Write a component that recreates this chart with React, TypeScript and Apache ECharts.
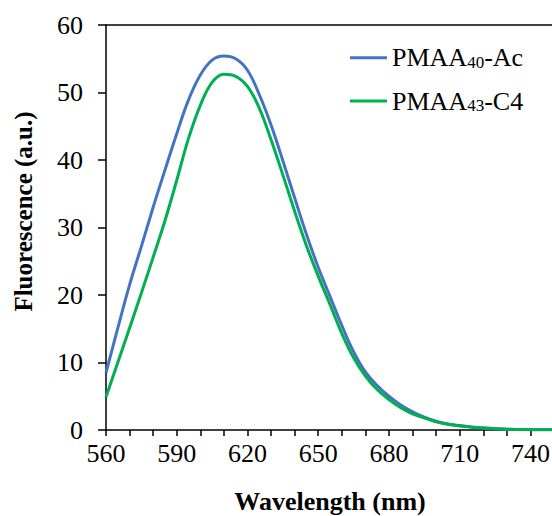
import React, { useEffect, useRef } from "react";
import * as echarts from "echarts";

const seriesNames = ["PMAA40-Ac", "PMAA43-C4"];
const seriesColors = ["#4472C4", "#00B050"];

const wavelength = [560, 565, 570, 575, 580, 585, 590, 595, 600, 605, 610, 615, 620, 625, 630, 635, 640, 645, 650, 655, 660, 665, 670, 675, 680, 685, 690, 695, 700, 705, 710, 715, 720, 725, 730, 735, 740, 745, 750];
const fluorA = [8.5, 15.1, 21.5, 27.2, 33.0, 38.5, 43.9, 48.9, 52.6, 54.8, 55.4, 55.0, 53.3, 49.7, 45.2, 39.9, 34.4, 29.0, 24.1, 19.8, 15.5, 11.6, 8.6, 6.6, 5.0, 3.7, 2.7, 1.9, 1.3, 0.9, 0.65, 0.45, 0.3, 0.2, 0.12, 0.08, 0.05, 0.04, 0.03];
const fluorB = [4.9, 10.0, 15.1, 20.3, 25.6, 31.0, 37.0, 43.2, 48.1, 51.5, 52.7, 52.4, 50.9, 47.7, 43.0, 37.8, 32.4, 27.3, 22.8, 18.6, 14.3, 10.7, 8.0, 6.0, 4.5, 3.3, 2.4, 1.8, 1.2, 0.85, 0.6, 0.42, 0.28, 0.18, 0.11, 0.07, 0.05, 0.04, 0.03];

const xMin = 560;
const xMax = 750;
const xStep = 10;
const xLabelStep = 30;
const yMin = 0;
const yMax = 60;
const yStep = 10;

const xTitle = "Wavelength (nm)";
const yTitle = "Fluorescence (a.u.)";

const FONT = "'Liberation Serif', 'Times New Roman', serif";

function legendFormatter(name: string) {
  const m = name.match(/^([A-Za-z]+)(\d+)(.*)$/);
  if (!m) return name;
  return `{n|${m[1]}}{s|${m[2]}}{n|${m[3]}}`;
}

export default function App() {
  const ref = useRef<HTMLDivElement>(null);
  useEffect(() => {
    if (!ref.current) return;
    const chart = echarts.init(ref.current, null, { renderer: "svg" });
    const axisLineStyle = { color: "#000", width: 1.5 };
    const legendRich = {
      n: { fontFamily: FONT, fontSize: 26, color: "#000", lineHeight: 26, verticalAlign: "bottom" },
      s: { fontFamily: FONT, fontSize: 17, color: "#000", lineHeight: 26, verticalAlign: "bottom" },
    };
    const makeLegend = (i: number, top: number) => ({
      data: [seriesNames[i]],
      left: 350,
      top,
      padding: 0,
      icon: "rect",
      itemWidth: 37,
      itemHeight: 3,
      formatter: legendFormatter,
      textStyle: { rich: legendRich },
      selectedMode: false,
    });
    chart.setOption({
      animation: false,
      backgroundColor: "#fff",
      grid: {
        left: 106,
        top: 25,
        right: -2,
        bottom: 86,
        containLabel: false,
        outerBoundsMode: "none",
      },
      legend: [makeLegend(0, 44.7), makeLegend(1, 88)],
      xAxis: [
        {
          type: "value",
          min: xMin,
          max: xMax,
          interval: xStep,
          splitLine: { show: false },
          axisLine: { show: true, onZero: false, lineStyle: axisLineStyle },
          axisTick: { show: true, length: 6, lineStyle: axisLineStyle },
          axisLabel: {
            margin: 10,
            fontFamily: FONT,
            fontSize: 26,
            color: "#000",
            showMaxLabel: true,
            formatter: (v: number) => ((v - xMin) % xLabelStep === 0 && v < xMax ? String(v) : ""),
          },
          name: xTitle,
          nameLocation: "middle",
          nameGap: 58,
          nameMoveOverlap: false,
          nameTextStyle: { fontFamily: FONT, fontSize: 26, fontWeight: "bold", color: "#000" },
        },
        {
          type: "value",
          position: "top",
          min: xMin,
          max: xMax,
          splitLine: { show: false },
          axisLine: { show: true, onZero: false, lineStyle: axisLineStyle },
          axisTick: { show: false },
          axisLabel: { show: false },
        },
      ],
      yAxis: {
        type: "value",
        min: yMin,
        max: yMax,
        interval: yStep,
        splitLine: { show: false },
        axisLine: { show: true, onZero: false, lineStyle: axisLineStyle },
        axisTick: { show: true, length: 8, lineStyle: axisLineStyle },
        axisLabel: { margin: 23, fontFamily: FONT, fontSize: 26, color: "#000" },
        name: yTitle,
        nameLocation: "middle",
        nameGap: 70,
        nameMoveOverlap: false,
        nameTextStyle: {
          fontFamily: FONT,
          fontSize: 25,
          fontWeight: "bold",
          color: "#000",
          padding: [0, 0, 0, 32],
        },
      },
      series: [
        {
          name: seriesNames[0],
          type: "line",
          xAxisIndex: 0,
          data: wavelength.map((x, i) => [x, fluorA[i]]),
          showSymbol: false,
          symbol: "none",
          smooth: 0.4,
          lineStyle: { color: seriesColors[0], width: 3 },
          itemStyle: { color: seriesColors[0] },
        },
        {
          name: seriesNames[1],
          type: "line",
          xAxisIndex: 0,
          data: wavelength.map((x, i) => [x, fluorB[i]]),
          showSymbol: false,
          symbol: "none",
          smooth: 0.4,
          lineStyle: { color: seriesColors[1], width: 3 },
          itemStyle: { color: seriesColors[1] },
        },
      ],
    });
    return () => chart.dispose();
  }, []);
  return <div ref={ref} style={{ width: 552, height: 516, position: "absolute", left: 0, top: 0 }} />;
}
